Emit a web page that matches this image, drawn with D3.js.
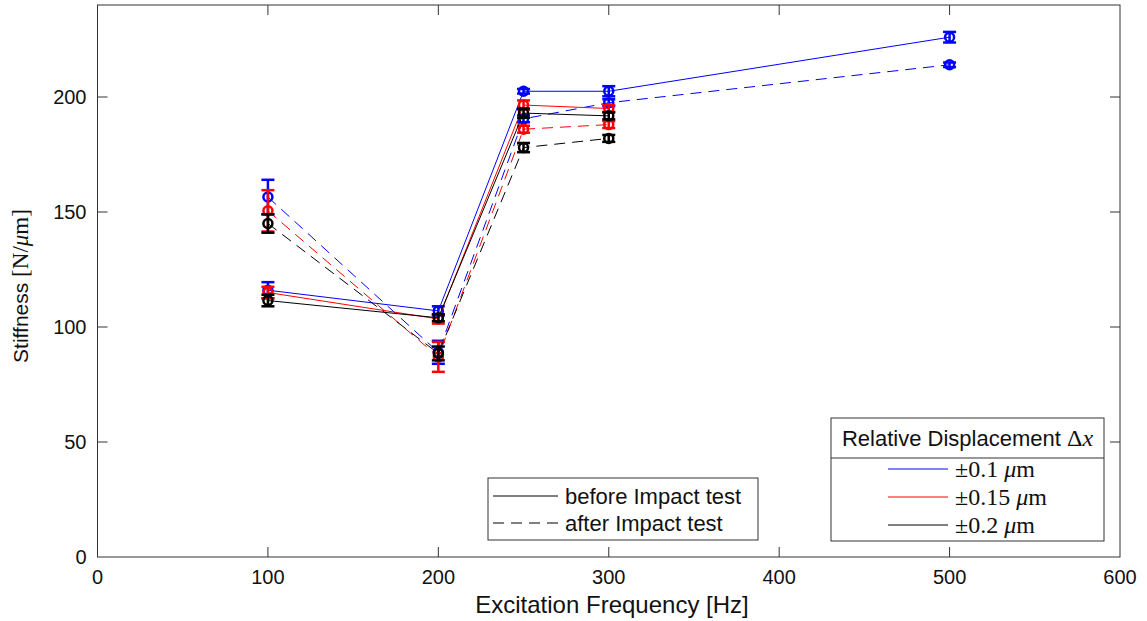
<!DOCTYPE html>
<html>
<head>
<meta charset="utf-8">
<script src="https://cdn.jsdelivr.net/npm/d3@7"></script>
<style>
  body { margin: 0; background: #fff; }
  svg { font-family: "Liberation Sans", Arial, sans-serif; }
  .serif { font-family: "Liberation Serif", "Times New Roman", serif; }
</style>
</head>
<body>
<div id="chart"></div>
<script>
// excitation frequencies [Hz]
const freqBlue = [100, 200, 250, 300, 500];
const freqOther = [100, 200, 250, 300];

// stiffness [N/um], before impact test
const blueBefore = [116, 107, 202.5, 202.5, 226];
const blueBeforeErr = [3.5, 2, 1, 2.2, 2.3];
const redBefore = [115, 103.5, 196.5, 195, null];
const redBeforeErr = [2.5, 2, 2, 1.5, null];
const blackBefore = [111.5, 104, 193, 191.8, null];
const blackBeforeErr = [2.5, 1.5, 2, 1.5, null];

// stiffness [N/um], after impact test
const blueAfter = [156.5, 89, 190.5, 197.5, 214];
const blueAfterErr = [7.5, 5, 1.5, 1.5, 1];
const redAfter = [150.5, 87, 186, 188, null];
const redAfterErr = [9, 6.5, 1.5, 1.5, null];
const blackAfter = [145, 88.5, 178, 182, null];
const blackAfterErr = [4, 3, 2, 1.5, null];

const xTicks = [0, 100, 200, 300, 400, 500, 600];
const yTicks = [0, 50, 100, 150, 200];

const width = 1147;
const height = 621;
const marginLeft = 97.5;
const marginRight = 27;
const marginTop = 5;
const marginBottom = 64;

const x = d3.scaleLinear().domain([0, 600]).range([marginLeft, width - marginRight]);
const y = d3.scaleLinear().domain([0, 240]).range([height - marginBottom, marginTop]);

const svg = d3.select("#chart").append("svg")
    .attr("width", width)
    .attr("height", height)
    .attr("viewBox", [0, 0, width, height]);

const axisColor = "#333";
const dash = "11,7";

// axes box
svg.append("rect")
    .attr("x", x(0)).attr("y", y(240))
    .attr("width", x(600) - x(0)).attr("height", y(0) - y(240))
    .attr("fill", "none").attr("stroke", axisColor).attr("stroke-width", 1);

// inward ticks on all four sides
const tickLen = 10;
const tickG = svg.append("g").attr("stroke", axisColor).attr("stroke-width", 1);
xTicks.slice(1, -1).forEach(t => {
    tickG.append("line").attr("x1", x(t)).attr("x2", x(t)).attr("y1", y(0)).attr("y2", y(0) - tickLen);
    tickG.append("line").attr("x1", x(t)).attr("x2", x(t)).attr("y1", y(240)).attr("y2", y(240) + tickLen);
});
yTicks.slice(1).forEach(t => {
    tickG.append("line").attr("x1", x(0)).attr("x2", x(0) + tickLen).attr("y1", y(t)).attr("y2", y(t));
    tickG.append("line").attr("x1", x(600)).attr("x2", x(600) - tickLen).attr("y1", y(t)).attr("y2", y(t));
});

// tick labels
svg.append("g").selectAll("text").data(xTicks).join("text")
    .attr("x", d => x(d)).attr("y", y(0) + 27)
    .attr("text-anchor", "middle").attr("font-size", 20).attr("fill", "#111")
    .text(d => d);
svg.append("g").selectAll("text").data(yTicks).join("text")
    .attr("x", x(0) - 11).attr("y", d => y(d) + 7)
    .attr("text-anchor", "end").attr("font-size", 20).attr("fill", "#111")
    .text(d => d);

// axis labels
svg.append("text")
    .attr("x", 612).attr("y", 613)
    .attr("text-anchor", "middle").attr("font-size", 24).attr("fill", "#111")
    .text("Excitation Frequency [Hz]");

const yl = svg.append("text")
    .attr("transform", `translate(28,286) rotate(-90)`)
    .attr("text-anchor", "middle").attr("font-size", 21).attr("fill", "#111");
yl.append("tspan").text("Stiffness ");
yl.append("tspan").attr("class", "serif").attr("font-size", 23).text("[N/");
yl.append("tspan").attr("class", "serif").attr("font-size", 23).attr("font-style", "italic").text("μ");
yl.append("tspan").attr("class", "serif").attr("font-size", 23).text("m]");

// series
const series = [
    { color: "#0000ff", freq: freqBlue, vals: blueBefore, err: blueBeforeErr, dash: null },
    { color: "#0000ff", freq: freqBlue, vals: blueAfter, err: blueAfterErr, dash: dash },
    { color: "#ff0000", freq: freqOther, vals: redBefore, err: redBeforeErr, dash: null },
    { color: "#ff0000", freq: freqOther, vals: redAfter, err: redAfterErr, dash: dash },
    { color: "#000000", freq: freqOther, vals: blackBefore, err: blackBeforeErr, dash: null },
    { color: "#000000", freq: freqOther, vals: blackAfter, err: blackAfterErr, dash: dash }
];

const line = d3.line().x(d => x(d.f)).y(d => y(d.v));

series.forEach(s => {
    const pts = s.freq.map((f, i) => ({ f: f, v: s.vals[i], e: s.err[i] }));
    const g = svg.append("g");
    g.append("path")
        .attr("d", line(pts))
        .attr("fill", "none").attr("stroke", s.color).attr("stroke-width", 1)
        .attr("stroke-dasharray", s.dash);
    const eb = g.append("g").attr("stroke", s.color).attr("stroke-width", 2.5).attr("fill", "none");
    pts.forEach(p => {
        eb.append("line").attr("x1", x(p.f)).attr("x2", x(p.f)).attr("y1", y(p.v - p.e)).attr("y2", y(p.v + p.e));
        eb.append("line").attr("x1", x(p.f) - 6.5).attr("x2", x(p.f) + 6.5).attr("y1", y(p.v - p.e)).attr("y2", y(p.v - p.e));
        eb.append("line").attr("x1", x(p.f) - 6.5).attr("x2", x(p.f) + 6.5).attr("y1", y(p.v + p.e)).attr("y2", y(p.v + p.e));
        eb.append("circle").attr("cx", x(p.f)).attr("cy", y(p.v)).attr("r", 4.5);
    });
});

// legend: line style
const lg1 = svg.append("g").attr("transform", "translate(488,478)");
lg1.append("rect").attr("width", 270).attr("height", 62)
    .attr("fill", "#fff").attr("stroke", axisColor).attr("stroke-width", 1);
lg1.append("line").attr("x1", 5).attr("x2", 70).attr("y1", 18).attr("y2", 18)
    .attr("stroke", "#000").attr("stroke-width", 1);
lg1.append("line").attr("x1", 5).attr("x2", 70).attr("y1", 45).attr("y2", 45)
    .attr("stroke", "#000").attr("stroke-width", 1).attr("stroke-dasharray", dash);
lg1.append("text").attr("x", 77).attr("y", 26).attr("font-size", 22).attr("fill", "#111").text("before Impact test");
lg1.append("text").attr("x", 77).attr("y", 53).attr("font-size", 22).attr("fill", "#111").text("after Impact test");

// legend: displacement
const labels = ["±0.1 ", "±0.15 ", "±0.2 "];
const colors = ["#0000ff", "#ff0000", "#000000"];
const lg2 = svg.append("g").attr("transform", "translate(831,418)");
lg2.append("rect").attr("width", 273).attr("height", 123)
    .attr("fill", "#fff").attr("stroke", axisColor).attr("stroke-width", 1);
lg2.append("line").attr("x1", 0).attr("x2", 273).attr("y1", 40).attr("y2", 40)
    .attr("stroke", axisColor).attr("stroke-width", 1);
const tt = lg2.append("text").attr("x", 136.5).attr("y", 28).attr("text-anchor", "middle")
    .attr("font-size", 22).attr("fill", "#111");
tt.append("tspan").text("Relative Displacement ");
tt.append("tspan").attr("class", "serif").attr("font-size", 24).text("Δ");
tt.append("tspan").attr("class", "serif").attr("font-size", 24).attr("font-style", "italic").text("x");
labels.forEach((l, i) => {
    const yy = 51 + i * 28;
    lg2.append("line").attr("x1", 57).attr("x2", 117).attr("y1", yy).attr("y2", yy)
        .attr("stroke", colors[i]).attr("stroke-width", 1);
    const t = lg2.append("text").attr("class", "serif").attr("x", 124).attr("y", yy + 8)
        .attr("font-size", 24).attr("fill", "#111");
    t.append("tspan").text(l);
    t.append("tspan").attr("font-style", "italic").text("μ");
    t.append("tspan").text("m");
});
</script>
</body>
</html>
